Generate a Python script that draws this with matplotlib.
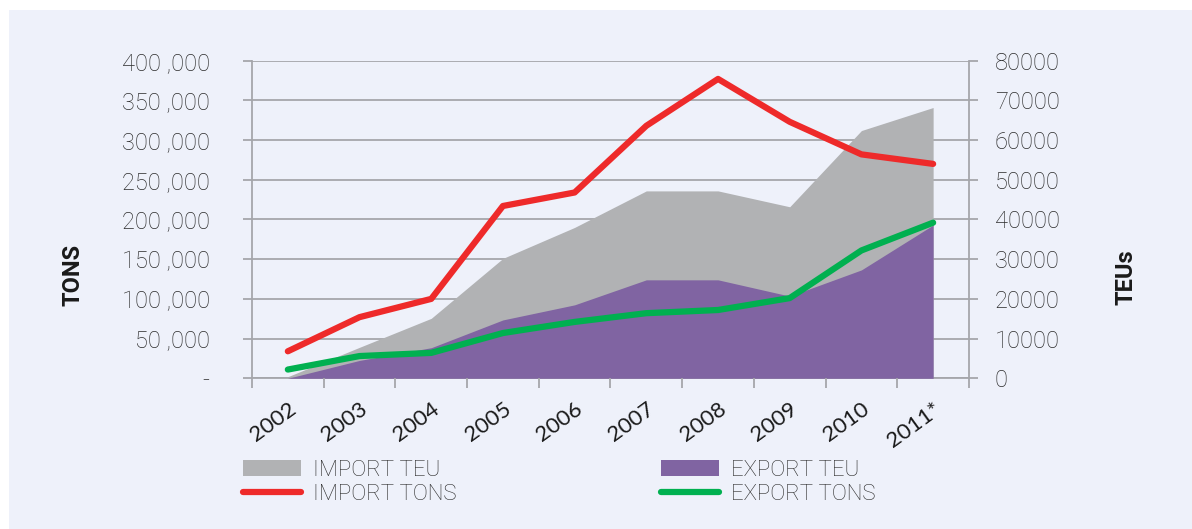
import matplotlib
matplotlib.use("Agg")
import matplotlib.pyplot as plt
import numpy as np
from matplotlib.patches import Rectangle, Patch
from matplotlib.lines import Line2D

years = ["2002", "2003", "2004", "2005", "2006", "2007", "2008", "2009", "2010", "2011*"]
import_tons = [34000, 77000, 100000, 217000, 234000, 318000, 377000, 323000, 282000, 270000]
export_tons = [11000, 28000, 32000, 57000, 71000, 82000, 86000, 101000, 161000, 196000]
import_teu = [400, 7800, 15100, 30200, 38000, 47200, 47200, 43200, 62400, 68200]
export_teu = [0, 4500, 7700, 14700, 18500, 24800, 24800, 20700, 27300, 38600]

tons_ticks = [0, 50000, 100000, 150000, 200000, 250000, 300000, 350000, 400000]
tons_labels = ["-", "50 ,000", "100 ,000", "150 ,000", "200 ,000", "250 ,000",
               "300 ,000", "350 ,000", "400 ,000"]
teu_ticks = [0, 10000, 20000, 30000, 40000, 50000, 60000, 70000, 80000]
teu_labels = ["0", "10000", "20000", "30000", "40000", "50000", "60000", "70000", "80000"]

bg = "#eef1fa"
grey = "#b1b2b4"
purple = "#8064a2"
red = "#ee2a2a"
green = "#00b050"
gridc = "#a5a6ab"
textc = "#2b2b2b"

fig = plt.figure(figsize=(11.92, 5.29), dpi=100)
fig.patch.set_facecolor("white")
fig.add_artist(Rectangle((9 / 1192, 0), 1, 1 - 10 / 529, transform=fig.transFigure,
                         facecolor=bg, edgecolor="none", zorder=-10))

ax = fig.add_axes([0.2114, 0.2849, 0.6015, 0.6004])
ax2 = ax.twinx()

x = np.arange(len(years))

# areas (TEU, right axis) at the back
ax2.fill_between(x, import_teu, color=grey, lw=0, zorder=2)
ax2.fill_between(x, export_teu, color=purple, lw=0, zorder=3)
ax2.set_ylim(0, 80000)
ax2.yaxis.grid(True, color=gridc, lw=1.3, zorder=0)
ax2.set_axisbelow(True)

# lines (tons, left axis) in front
ax.plot(x, import_tons, color=red, lw=4.5, solid_capstyle="round", solid_joinstyle="round")
ax.plot(x, export_tons, color=green, lw=4.5, solid_capstyle="round", solid_joinstyle="round")
ax.set_ylim(0, 400000)
ax.set_xlim(-0.5, len(years) - 0.5)
ax.set_zorder(ax2.get_zorder() + 1)
ax.patch.set_visible(False)
ax2.patch.set_visible(False)

for a in (ax, ax2):
    for s in a.spines.values():
        s.set_visible(False)
ax.spines["left"].set_visible(True)
ax.spines["left"].set_color(gridc)
ax.spines["left"].set_linewidth(1.3)
ax2.spines["right"].set_visible(True)
ax2.spines["right"].set_color(gridc)
ax2.spines["right"].set_linewidth(1.3)
ax2.spines["bottom"].set_visible(True)
ax2.spines["bottom"].set_color(gridc)
ax2.spines["bottom"].set_linewidth(1.3)

fam = ["Roboto", "DejaVu Sans"]
ax.set_yticks(tons_ticks, labels=tons_labels)
ax2.set_yticks(teu_ticks, labels=teu_labels)
ax.tick_params(axis="y", length=6.5, width=1.3, color=gridc, pad=24, labelsize=17, labelcolor=textc)
ax2.tick_params(axis="y", length=6.5, width=1.3, color=gridc, pad=12, labelsize=17, labelcolor=textc)
for lab in ax.get_yticklabels() + ax2.get_yticklabels():
    lab.set_fontfamily(fam)
    lab.set_fontweight("light")

ax.set_xticks(np.arange(-0.5, len(years), 1))
ax.set_xticklabels([])
ax.set_xticks(x, minor=True)
ax.set_xticklabels(years, minor=True, rotation=36, ha="right", rotation_mode="anchor",
                   fontsize=16, fontfamily=["Lato", "DejaVu Sans"], color="#1a1a1a")
ax.tick_params(axis="x", which="major", length=7, width=1.3, color=gridc)
ax.tick_params(axis="x", which="minor", length=0, pad=15)

fig.text(73 / 1192, 1 - 275 / 529, "TONS", rotation=90, ha="center", va="center",
         fontsize=17, fontweight="bold", color="#1a1a1a", fontfamily=fam)
fig.text(1126 / 1192, 1 - 277 / 529, "TEUs", rotation=90, ha="center", va="center",
         fontsize=17, fontweight="bold", color="#1a1a1a", fontfamily=fam)

handles = [Patch(color=grey, lw=0),
           Line2D([], [], color=red, lw=4.5, solid_capstyle="round"),
           Patch(color=purple, lw=0),
           Line2D([], [], color=green, lw=4.5, solid_capstyle="round")]
labels = ["IMPORT TEU", "IMPORT TONS", "EXPORT TEU", "EXPORT TONS"]
fig.legend(handles, labels, ncol=2, loc="upper left", bbox_to_anchor=(243 / 1192, 1 - 460 / 529),
           frameon=False, handlelength=2.6, handleheight=0.7, handletextpad=0.55,
           columnspacing=9.2, labelspacing=0.12, borderaxespad=0, borderpad=0,
           prop={"family": fam, "size": 16, "weight": "light"}, labelcolor=textc)

fig.savefig("out.png", dpi=100, facecolor=fig.get_facecolor())
